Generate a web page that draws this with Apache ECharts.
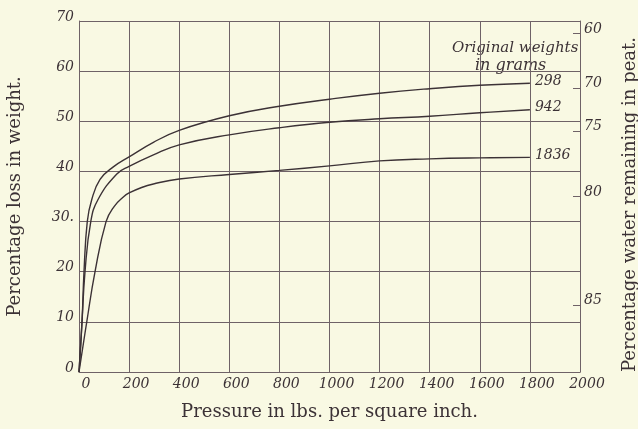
<!DOCTYPE html>
<html>
<head>
<meta charset="utf-8">
<script src="https://cdn.jsdelivr.net/npm/echarts@6/dist/echarts.min.js"></script>
<style>
html,body{margin:0;padding:0;background:#f9f9e3;}
#chart{width:638px;height:429px;}
</style>
</head>
<body>
<div id="chart"></div>
<script>
// Pressure (lbs per sq. inch) vs percentage loss in weight
const series298 = [[0,0],[12,10],[20,20],[33,30],[51,34.4],[84,38.4],[137,40.9],[200,42.9],[297,45.8],[400,48.2],[600,51.1],[800,53.0],[1000,54.4],[1200,55.6],[1400,56.5],[1600,57.2],[1800,57.6]];
const series942 = [[0,0],[12,10],[24,20],[47,30],[76,34.4],[151,39.5],[200,41.0],[297,43.3],[400,45.3],[600,47.3],[800,48.7],[1000,49.8],[1200,50.5],[1400,51.0],[1600,51.7],[1800,52.3]];
const series1836 = [[0,0],[31,10],[64,20],[108,30],[140,33.0],[177,34.9],[200,35.7],[250,36.8],[297,37.5],[400,38.5],[600,39.4],[800,40.2],[1000,41.1],[1200,42.1],[1400,42.5],[1600,42.7],[1800,42.8]];
const seriesNames = ['298','942','1836'];
const xTicks = [0,200,400,600,800,1000,1200,1400,1600,1800,2000];
const leftTicks = [0,10,20,30,40,50,60,70];
const leftTickLabels = ['0','10','20','30.','40','50','60','70'];
// right axis: percentage water remaining in peat (initial water content 87%)
const waterInitial = 87;
const rightTickLabels = [60,70,75,80,85];
const rightTickPositions = rightTickLabels.map(w => (waterInitial - w) / (100 - w) * 100);

const ink = '#3c3236';
const gridCol = '#6f6267';
const numFont = {fontFamily:'DejaVu Serif', fontStyle:'italic', fontSize:14, color:ink};
const titleFont = {fontFamily:'DejaVu Serif', fontSize:18, color:ink};

const chart = echarts.init(document.getElementById('chart'), null, {renderer:'canvas'});
chart.setOption({
  backgroundColor:'#f9f9e3',
  animation:false,
  grid:{left:79,right:58,top:21,bottom:57,containLabel:false,outerBoundsMode:'none'},
  xAxis:{
    type:'value', min:0, max:2000, interval:200,
    name:'Pressure in lbs. per square inch.', nameLocation:'middle', nameGap:31,
    nameTextStyle:titleFont,
    axisLine:{show:true,lineStyle:{color:gridCol,width:1}},
    axisTick:{show:false},
    splitLine:{show:true,lineStyle:{color:gridCol,width:1}},
    axisLabel:Object.assign({margin:5,padding:[0,0,0,14],
      formatter:v => String(xTicks[xTicks.indexOf(v)] ?? v)},numFont)
  },
  yAxis:[{
    type:'value', min:0, max:70, interval:10, position:'left',
    name:'Percentage loss in weight.', nameLocation:'middle', nameGap:55,
    nameTextStyle:titleFont,
    axisLine:{show:true,lineStyle:{color:gridCol,width:1}},
    axisTick:{show:false},
    splitLine:{show:true,lineStyle:{color:gridCol,width:1}},
    axisLabel:Object.assign({margin:5,verticalAlign:'bottom',lineHeight:8,
      formatter:v => leftTickLabels[leftTicks.indexOf(v)] ?? String(v)},numFont)
  },{
    type:'value', min:0, max:70, position:'right',
    name:'Percentage water remaining in peat.', nameLocation:'middle', nameGap:41, nameRotate:90,
    nameTextStyle:Object.assign({padding:[0,16,0,0]},titleFont),
    axisLine:{show:true,lineStyle:{color:gridCol,width:1}},
    axisTick:{show:true,inside:true,length:7,customValues:rightTickPositions,lineStyle:{color:gridCol}},
    splitLine:{show:false},
    axisLabel:Object.assign({margin:4,verticalAlign:'bottom',lineHeight:9,customValues:rightTickPositions,
      formatter:v => {
        let best=0; rightTickPositions.forEach((p,i)=>{ if (Math.abs(p-v)<Math.abs(rightTickPositions[best]-v)) best=i; });
        return String(rightTickLabels[best]);
      }},numFont)
  }],
  graphic:[
    {type:'text', left:452, top:41, style:{text:'Original weights', font:'italic 15px "DejaVu Serif"', fill:ink}},
    {type:'text', left:475, top:58, style:{text:'in grams', font:'italic 16px "DejaVu Serif"', fill:ink}}
  ],
  series:[series298, series942, series1836].map((d,i)=>({
    type:'line', data:d, smooth:0.45, showSymbol:false,
    lineStyle:{color:ink,width:1.4},
    endLabel:{show:true, formatter:seriesNames[i], distance:5, offset:[0,-2],
      fontFamily:'DejaVu Serif', fontStyle:'italic', fontSize:14, color:ink},
    z:3
  }))
});
</script>
</body>
</html>
